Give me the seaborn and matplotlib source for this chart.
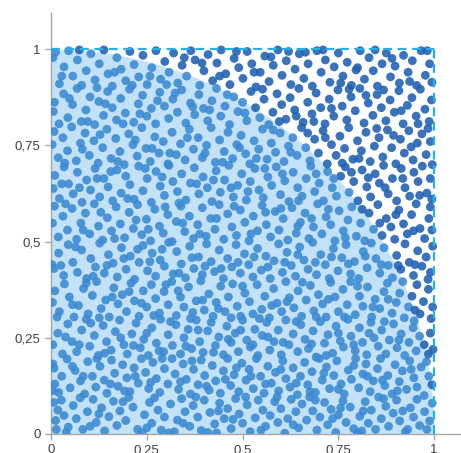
import numpy as np
import pandas as pd
import matplotlib
matplotlib.use("Agg")
import matplotlib.pyplot as plt
import seaborn as sns

# Tick positions / labels (decimal comma as in the reference)
tick_vals = [0, 0.25, 0.5, 0.75, 1]
tick_labels = ["0", "0,25", "0,5", "0,75", "1"]

# Sample points, coordinates in thousandths, grouped by y-band
band_0 = [(12,35),(18,62),(40,5),(45,18),(27,88),(58,74),(66,40),(83,12),(95,58),(110,90),(118,30),(132,68),(140,8),(151,45),(163,85),(172,22),(180,60),(195,35),(203,95),(214,70),(226,12),(238,2),(244,50),(257,82),(263,28),(279,62),(288,10),(296,44),(308,3),(312,78),(322,6),(330,36),(341,92),(350,58),(362,20),(371,74),(383,44),(392,9),(400,88),(409,4),(415,56),(427,26),(432,3),(440,80),(452,40),(461,66),(470,14),(482,92),(491,52),(500,28),(512,76),(520,6),(533,42),(541,88),(553,62),(560,20),(572,48),(584,84),(592,30),(600,66),(610,2),(618,40),(627,90),(639,58),(646,16),(655,78),(667,36),(675,96),(683,60),(694,10),(702,44),(714,82),(722,24),(731,64),(743,4),(750,50),(762,86),(770,30),(781,70),(790,14),(800,3),(806,46),(811,8),(820,84),(828,28),(836,62),(847,12),(855,96),(862,40),(874,72),(881,20),(893,54),(902,88),(910,34),(925,6),(931,12),(938,68),(946,44),(955,90),(962,22),(975,58),(988,34),(995,80),(14,12),(34,48),(76,94),(102,20),(125,52),(188,84),(250,16),(270,94),(345,28),(378,96),(437,60),(475,38),(508,96),(548,10),(590,96),(632,24),(690,88),(735,40),(756,68),(815,60),(868,92),(918,60),(981,12),(7,82)]
band_1 = [(5,182),(8,171),(10,130),(4,112),(28,150),(42,195),(50,120),(63,165),(77,138),(88,104),(96,188),(108,150),(117,122),(128,176),(139,140),(146,106),(158,192),(166,158),(175,124),(187,180),(198,146),(206,110),(217,172),(228,132),(236,196),(247,160),(255,118),(266,186),(275,144),(284,108),(296,170),(305,130),(316,196),(324,156),(333,116),(345,182),(353,142),(364,104),(372,168),(384,128),(392,192),(401,152),(413,114),(421,178),(430,138),(442,106),(450,164),(461,196),(469,126),(478,154),(490,110),(498,184),(509,140),(517,168),(528,118),(536,196),(547,150),(556,106),(566,176),(575,132),(586,160),(594,112),(605,190),(613,144),(624,122),(632,172),(643,102),(651,150),(662,186),(670,128),(681,162),(690,108),(700,196),(708,140),(719,174),(727,118),(738,152),(746,190),(757,130),(765,104),(776,166),(784,142),(795,196),(803,120),(814,156),(822,182),(833,110),(841,138),(852,170),(860,196),(871,126),(879,152),(890,104),(898,180),(909,136),(917,164),(928,116),(936,190),(947,146),(955,122),(966,174),(974,100),(986,150),(994,128),(20,108),(56,176),(84,150),(120,196),(155,130),(192,112),(220,150),(260,134),(290,196),(338,136),(368,190),(406,124),(455,142),(484,172),(522,150),(560,130),(600,168),(640,132),(676,110),(712,158),(750,116),(790,178),(826,150),(865,140),(904,112),(940,168),(980,188)]
band_2 = [(5,232),(18,262),(30,208),(44,286),(55,240),(67,214),(80,270),(92,298),(101,228),(113,256),(124,204),(136,282),(145,240),(157,218),(168,266),(179,296),(190,232),(199,208),(211,260),(222,288),(233,224),(242,246),(254,204),(263,276),(275,236),(286,298),(294,214),(306,258),(317,230),(326,284),(338,208),(347,250),(358,272),(367,222),(379,296),(388,240),(397,212),(409,268),(418,290),(429,230),(438,252),(450,206),(459,280),(470,238),(481,262),(489,214),(500,296),(511,244),(520,226),(532,272),(540,204),(551,256),(563,290),(571,218),(582,240),(593,270),(601,206),(613,296),(621,232),(632,260),(644,214),(652,284),(663,246),(672,222),(684,268),(692,200),(703,292),(714,236),(723,258),(735,210),(744,280),(755,242),(763,226),(775,298),(783,254),(794,216),(805,276),(813,238),(824,206),(835,290),(843,250),(854,228),(863,270),(874,208),(883,244),(894,286),(903,224),(914,260),(923,204),(934,238),(945,276),(953,216),(962,254),(974,232),(985,208),(990,262),(997,220),(38,252),(74,232),(104,288),(140,210),(182,250),(215,230),(250,262),(282,216),(312,292),(352,228),(384,270),(424,212),(463,246),(495,270),(527,232),(566,252),(606,238),(640,292),(680,234),(718,204),(750,262),(790,232),(830,262),(870,292),(908,244),(948,294)]
band_3 = [(4,342),(10,372),(22,318),(35,390),(48,356),(60,304),(72,334),(85,378),(97,312),(108,360),(119,396),(131,326),(143,348),(152,304),(164,380),(175,338),(186,362),(197,318),(209,392),(218,346),(230,306),(241,372),(250,330),(262,388),(273,352),(283,314),(295,370),(306,336),(315,396),(327,308),(338,356),(347,330),(359,382),(370,316),(379,346),(391,398),(400,322),(412,364),(423,306),(431,342),(443,384),(454,318),(463,356),(474,390),(486,332),(495,306),(506,366),(518,344),(527,312),(538,388),(550,324),(558,358),(570,302),(581,378),(590,340),(602,318),(613,396),(622,354),(634,328),(645,372),(654,306),(666,348),(677,386),(686,320),(698,362),(709,338),(718,304),(730,394),(741,356),(750,318),(762,376),(773,336),(782,396),(794,310),(805,358),(814,332),(826,382),(837,304),(846,350),(858,326),(869,370),(878,392),(890,314),(901,342),(910,366),(922,302),(933,330),(942,358),(955,388),(963,312),(972,344),(985,376),(992,300),(996,330),(16,304),(56,336),(92,392),(126,302),(160,356),(204,370),(236,340),(268,308),(300,388),(332,372),(364,300),(396,348),(437,326),(470,302),(500,384),(544,300),(576,334),(616,344),(656,394),(692,304),(724,350),(766,304),(800,384),(840,330),(880,350),(918,396),(950,322)]
band_4 = [(3,440),(8,430),(20,470),(33,412),(45,492),(57,446),(69,420),(80,478),(93,404),(104,456),(116,434),(127,496),(139,418),(150,466),(162,444),(173,408),(184,484),(196,428),(207,462),(218,402),(230,446),(240,490),(252,424),(264,470),(273,410),(285,452),(296,436),(307,498),(319,416),(328,474),(340,442),(351,406),(362,488),(373,430),(385,460),(395,414),(406,494),(418,448),(427,422),(439,478),(450,404),(461,456),(472,434),(483,492),(494,418),(505,468),(516,440),(527,408),(539,482),(549,426),(561,462),(572,404),(582,450),(594,494),(604,420),(616,472),(627,438),(638,410),(649,486),(660,452),(671,428),(683,498),(693,414),(704,466),(716,440),(726,404),(737,482),(749,424),(759,458),(770,492),(782,416),(792,448),(803,404),(815,474),(825,432),(836,496),(848,456),(858,418),(869,484),(880,438),(891,406),(902,464),(913,428),(924,494),(935,446),(946,412),(957,476),(968,436),(979,460),(990,420),(996,488),(26,438),(64,486),(110,410),(146,438),(190,456),(226,480),(258,448),(290,480),(334,418),(368,458),(402,436),(444,430),(488,446),(530,460),(566,434),(610,446),(644,466),(690,446),(732,460),(776,442),(820,462),(862,440),(906,438),(950,440),(984,402)]
band_5 = [(4,548),(9,592),(19,512),(31,566),(43,530),(55,586),(67,506),(78,548),(90,574),(101,520),(113,598),(124,540),(135,504),(147,562),(158,528),(170,590),(181,546),(192,510),(204,576),(215,534),(226,596),(237,518),(249,558),(260,502),(271,584),(283,540),(293,522),(305,570),(316,500),(327,552),(339,592),(349,526),(361,566),(372,508),(383,544),(395,588),(405,514),(417,560),(428,532),(439,596),(451,506),(461,572),(472,538),(484,516),(494,582),(506,550),(517,502),(528,566),(539,528),(551,594),(562,544),(573,512),(585,578),(595,530),(606,560),(618,504),(629,588),(640,522),(651,550),(663,574),(673,508),(685,538),(696,598),(707,520),(718,564),(730,544),(741,502),(752,580),(763,528),(775,556),(785,590),(797,514),(808,548),(819,502),(830,574),(842,532),(853,596),(864,516),(875,560),(887,538),(897,506),(908,582),(920,546),(930,520),(941,570),(953,598),(963,534),(975,508),(986,560),(994,530),(38,598),(84,530),(130,576),(166,508),(222,556),(254,532),(298,590),(344,548),(388,520),(432,560),(478,592),(522,520),(560,576),(600,586),(644,540),(680,560),(724,584),(768,510),(812,584),(858,548),(900,570),(946,528),(990,590)]
band_6 = [(6,638),(10,672),(22,612),(34,694),(46,650),(58,624),(69,680),(81,602),(93,660),(103,634),(115,690),(127,616),(138,664),(149,642),(161,606),(172,686),(183,626),(195,670),(206,648),(217,610),(229,696),(240,632),(251,664),(262,602),(274,682),(285,644),(296,620),(308,698),(318,656),(330,630),(341,676),(352,608),(364,652),(374,692),(386,624),(397,668),(408,640),(420,604),(431,684),(442,628),(453,660),(464,698),(476,616),(487,646),(498,676),(510,608),(520,656),(532,690),(543,634),(554,614),(566,668),(576,646),(588,694),(599,622),(610,658),(621,604),(632,680),(644,640),(655,618),(666,664),(678,696),(688,630),(700,652),(711,606),(722,682),(734,640),(745,618),(756,670),(768,694),(778,628),(790,656),(801,606),(812,686),(824,642),(834,616),(846,676),(857,652),(868,698),(880,624),(891,664),(902,606),(914,690),(924,640),(936,618),(947,680),(958,656),(969,696),(981,626),(990,664),(994,610),(28,650),(74,640),(120,664),(156,682),(200,612),(246,690),(290,668),(334,600),(380,650),(424,660),(470,640),(514,630),(558,690),(604,676),(646,606),(692,676),(738,664),(784,680),(828,666),(872,640),(918,664),(962,620)]
band_7 = [(3,752),(8,786),(19,718),(31,770),(43,736),(54,798),(66,710),(77,756),(89,782),(100,724),(112,762),(123,704),(135,744),(146,792),(157,716),(169,768),(180,734),(191,700),(203,780),(214,752),(225,722),(237,796),(248,742),(259,708),(271,772),(282,730),(293,760),(305,702),(316,784),(327,726),(338,754),(350,712),(361,792),(372,740),(384,770),(395,718),(406,750),(418,796),(429,706),(440,764),(452,734),(462,784),(474,716),(485,752),(496,776),(508,728),(519,702),(530,762),(542,740),(552,792),(564,714),(575,756),(586,732),(598,782),(608,708),(620,748),(631,770),(642,724),(654,796),(665,744),(676,710),(688,766),(698,730),(710,788),(721,702),(732,752),(744,724),(754,774),(766,742),(777,796),(788,714),(800,762),(810,736),(822,784),(833,708),(844,748),(856,770),(866,720),(878,790),(889,744),(900,702),(912,766),(922,730),(934,788),(945,712),(956,756),(968,780),(979,726),(990,760),(995,700),(36,704),(82,740),(128,778),(174,708),(220,764),(264,742),(310,730),(356,770),(402,730),(448,706),(492,744),(536,716),(580,790),(626,732),(670,782),(716,770),(760,704),(804,716),(850,794),(894,776),(940,746),(984,794)]
band_8 = [(6,838),(9,862),(21,806),(33,884),(44,822),(56,856),(68,898),(79,812),(91,842),(102,876),(114,804),(125,864),(137,828),(148,890),(160,848),(171,816),(182,872),(194,834),(205,896),(216,810),(228,858),(239,880),(250,826),(262,846),(273,806),(284,888),(296,852),(307,820),(318,870),(330,836),(341,894),(352,808),(364,860),(375,830),(386,882),(398,846),(409,814),(420,866),(432,898),(443,826),(454,852),(466,804),(477,876),(488,838),(500,862),(511,814),(522,890),(534,848),(545,822),(556,870),(568,804),(579,836),(590,884),(602,856),(613,818),(624,874),(636,842),(647,898),(658,810),(670,862),(681,832),(692,886),(704,848),(715,806),(726,870),(738,826),(749,894),(760,852),(772,816),(783,876),(794,840),(806,898),(817,808),(828,860),(840,828),(851,882),(862,848),(874,814),(885,868),(896,836),(908,892),(919,806),(930,854),(942,874),(953,826),(964,896),(976,844),(987,812),(993,868),(48,872),(96,812),(142,858),(188,806),(232,832),(278,866),(324,886),(370,850),(414,842),(460,882),(506,834),(552,896),(596,812),(640,826),(686,812),(732,846),(778,896),(822,880),(868,894),(914,840),(958,806)]
band_9 = [(5,978),(12,992),(22,910),(34,954),(46,996),(57,930),(69,972),(80,906),(92,944),(104,988),(115,920),(126,962),(138,998),(149,936),(160,904),(172,978),(183,948),(195,918),(206,994),(217,960),(229,928),(240,984),(251,908),(263,952),(274,996),(286,922),(297,968),(308,940),(320,990),(331,912),(342,958),(354,930),(365,996),(376,972),(388,906),(399,944),(410,986),(422,918),(433,964),(444,998),(456,936),(467,908),(478,976),(490,952),(501,924),(512,994),(524,962),(535,902),(546,940),(558,982),(569,916),(580,958),(592,998),(603,932),(614,970),(626,908),(637,948),(648,988),(660,924),(671,962),(682,904),(694,996),(705,940),(716,972),(728,914),(739,954),(750,990),(762,930),(773,966),(784,906),(796,946),(807,996),(818,922),(830,978),(841,944),(852,904),(864,962),(875,990),(886,928),(898,956),(909,912),(920,984),(932,940),(943,970),(954,906),(966,996),(977,932),(988,962),(994,914),(28,930),(74,998),(120,900),(166,940),(212,906),(258,930),(302,908),(348,978),(394,964),(440,930),(484,994),(530,940),(574,980),(620,994),(664,992),(710,998),(756,912),(800,952),(846,998),(890,976),(936,916),(982,996)]

bands = [band_0, band_1, band_2, band_3, band_4, band_5, band_6, band_7, band_8, band_9]
pts = np.array([p for b in bands for p in b], dtype=float) / 1000.0
df = pd.DataFrame({"x": pts[:, 0], "y": pts[:, 1]})
df["region"] = np.where(df.x**2 + df.y**2 <= 1.0, "inside", "outside")

sns.set_theme(style="white")
plt.rcParams["font.family"] = ["Liberation Sans", "DejaVu Sans"]

fig = plt.figure(figsize=(4.61, 4.53), dpi=100)
ax = fig.add_axes([51/461, 19/453, 410/461, 421/453])

# quarter-circle fill
xc = np.linspace(0, 1, 400)
ax.fill_between(xc, 0, np.sqrt(np.clip(1 - xc**2, 0, None)), color="#c4e2f7", lw=0, zorder=1)

sns.scatterplot(data=df, x="x", y="y", hue="region",
                palette={"inside": "#3a89d2", "outside": "#1e60b2"},
                s=40, linewidth=0, alpha=0.88, legend=False, ax=ax, zorder=3)

# dashed unit square (top and right edges)
ax.plot([0, 1], [1, 1], color="#23b1e6", lw=1.6, ls=(0, (4, 2.5)), zorder=4, clip_on=False)
ax.plot([1, 1], [0, 1], color="#23b1e6", lw=1.6, ls=(0, (4, 2.5)), zorder=4, clip_on=False)

ax.set_xlim(0, 1.07)
ax.set_ylim(0, 1.094)
ax.set_xticks(tick_vals)
ax.set_xticklabels(tick_labels)
ax.set_yticks(tick_vals)
ax.set_yticklabels(tick_labels)
ax.set_xlabel("")
ax.set_ylabel("")
for s in ["top", "right"]:
    ax.spines[s].set_visible(False)
for s in ["left", "bottom"]:
    ax.spines[s].set_color("#a6a6a6")
    ax.spines[s].set_linewidth(1.0)
ax.tick_params(axis="both", direction="out", length=4, width=1, color="#a6a6a6",
               labelsize=9.5, labelcolor="#404040", pad=3.5)
ax.tick_params(axis="both", which="both", bottom=True, left=True)

fig.savefig("out.png", dpi=100)
